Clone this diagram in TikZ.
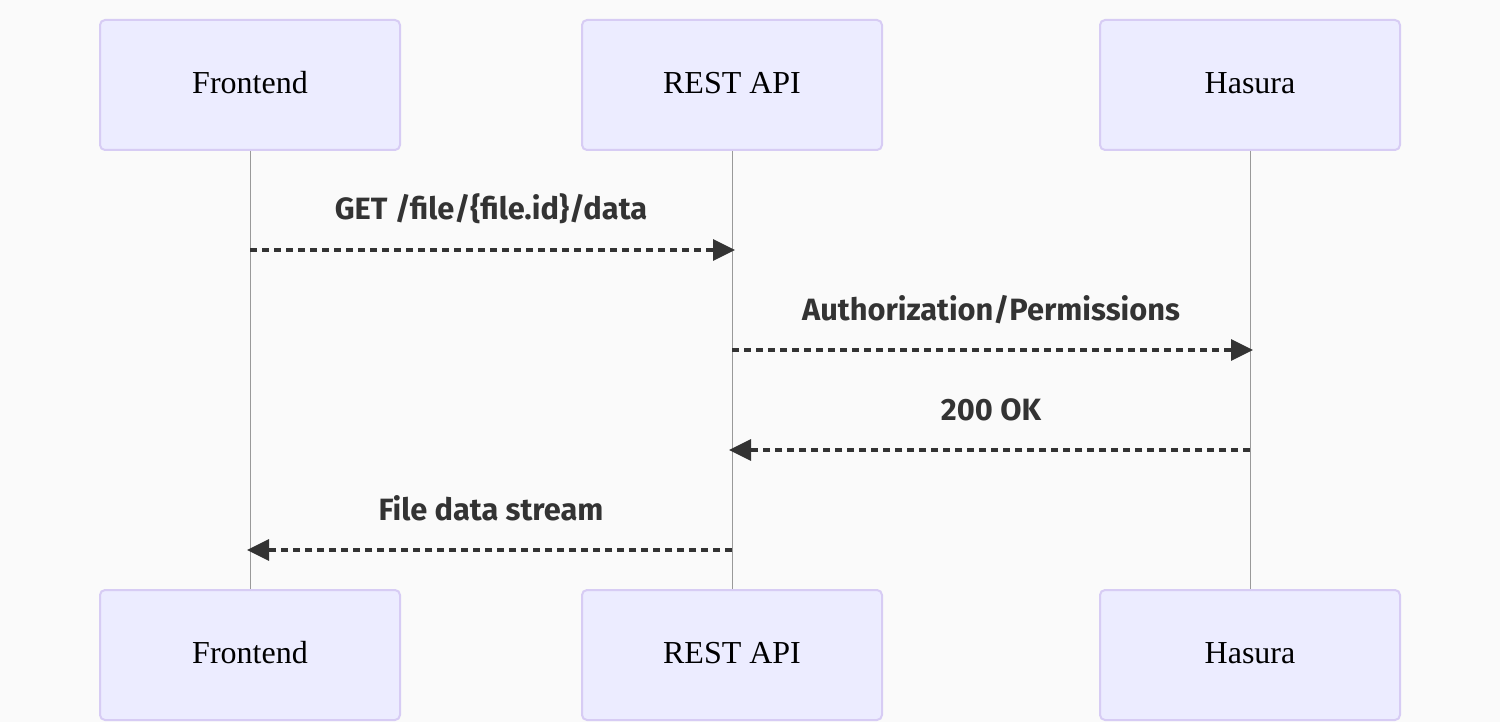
\documentclass[tikz,border=0pt]{standalone}
\usepackage{fontspec}
\setmainfont{Liberation Serif}
\newfontfamily\msgfont{Fira Sans}
\usetikzlibrary{positioning,arrows.meta}

\definecolor{actorfill}{HTML}{ECECFF}
\definecolor{actorline}{HTML}{D7CCF4}
\definecolor{bgcol}{HTML}{FAFAFA}
\definecolor{msgcol}{HTML}{333333}
\definecolor{lifecol}{HTML}{999999}

\tikzset{
  actor/.style={draw=actorline, fill=actorfill, line width=1pt, rounded corners=2.5pt,
    minimum width=150pt, minimum height=65pt, text=black,
    text height=11pt, text depth=2.7pt,
    font=\fontsize{16}{19}\selectfont},
  life/.style={draw=lifecol, line width=0.5pt},
  msg/.style={draw=msgcol, line width=1.6pt, dash pattern=on 3.5pt off 2.5pt,
    -{Triangle[length=11pt,width=10.5pt]}, shorten >=-1.5pt},
  msglabel/.style={font=\msgfont\bfseries\fontsize{15.4}{18}\selectfont, text=msgcol,
    anchor=base, yshift=15pt}
}

\begin{document}
\begin{tikzpicture}[x=0.5pt,y=-0.5pt]
\fill[bgcol] (0,0) rectangle (1500,722);

\def\xa{250}
\def\xb{732}
\def\xc{1250}

\def\ytop{85}
\def\ybot{655}

% participants, top and bottom
\node[actor] (fe) at (\xa,\ytop) {Frontend};
\node[actor] (api) at (\xb,\ytop) {REST API};
\node[actor] (ha) at (\xc,\ytop) {Hasura};

\node[actor] (feb) at (\xa,\ybot) {Frontend};
\node[actor] (apib) at (\xb,\ybot) {REST API};
\node[actor] (hab) at (\xc,\ybot) {Hasura};

\draw[life] (fe) -- (feb);
\draw[life] (api) -- (apib);
\draw[life] (ha) -- (hab);

% message points on the lifelines
\coordinate (fe1) at (\xa,250);
\coordinate (api1) at (\xb,250);
\coordinate (api2) at (\xb,350);
\coordinate (ha2) at (\xc,350);
\coordinate (ha3) at (\xc,450);
\coordinate (api3) at (\xb,450);
\coordinate (api4) at (\xb,550);
\coordinate (fe4) at (\xa,550);

\draw[msg] (fe1) -- node[msglabel] {GET /file/\{file.id\}/data} (api1);
\draw[msg] (api2) -- node[msglabel] {Authorization/Permissions} (ha2);
\draw[msg] (ha3) -- node[msglabel] {200 OK} (api3);
\draw[msg] (api4) -- node[msglabel] {File data stream} (fe4);

\end{tikzpicture}
\end{document}
